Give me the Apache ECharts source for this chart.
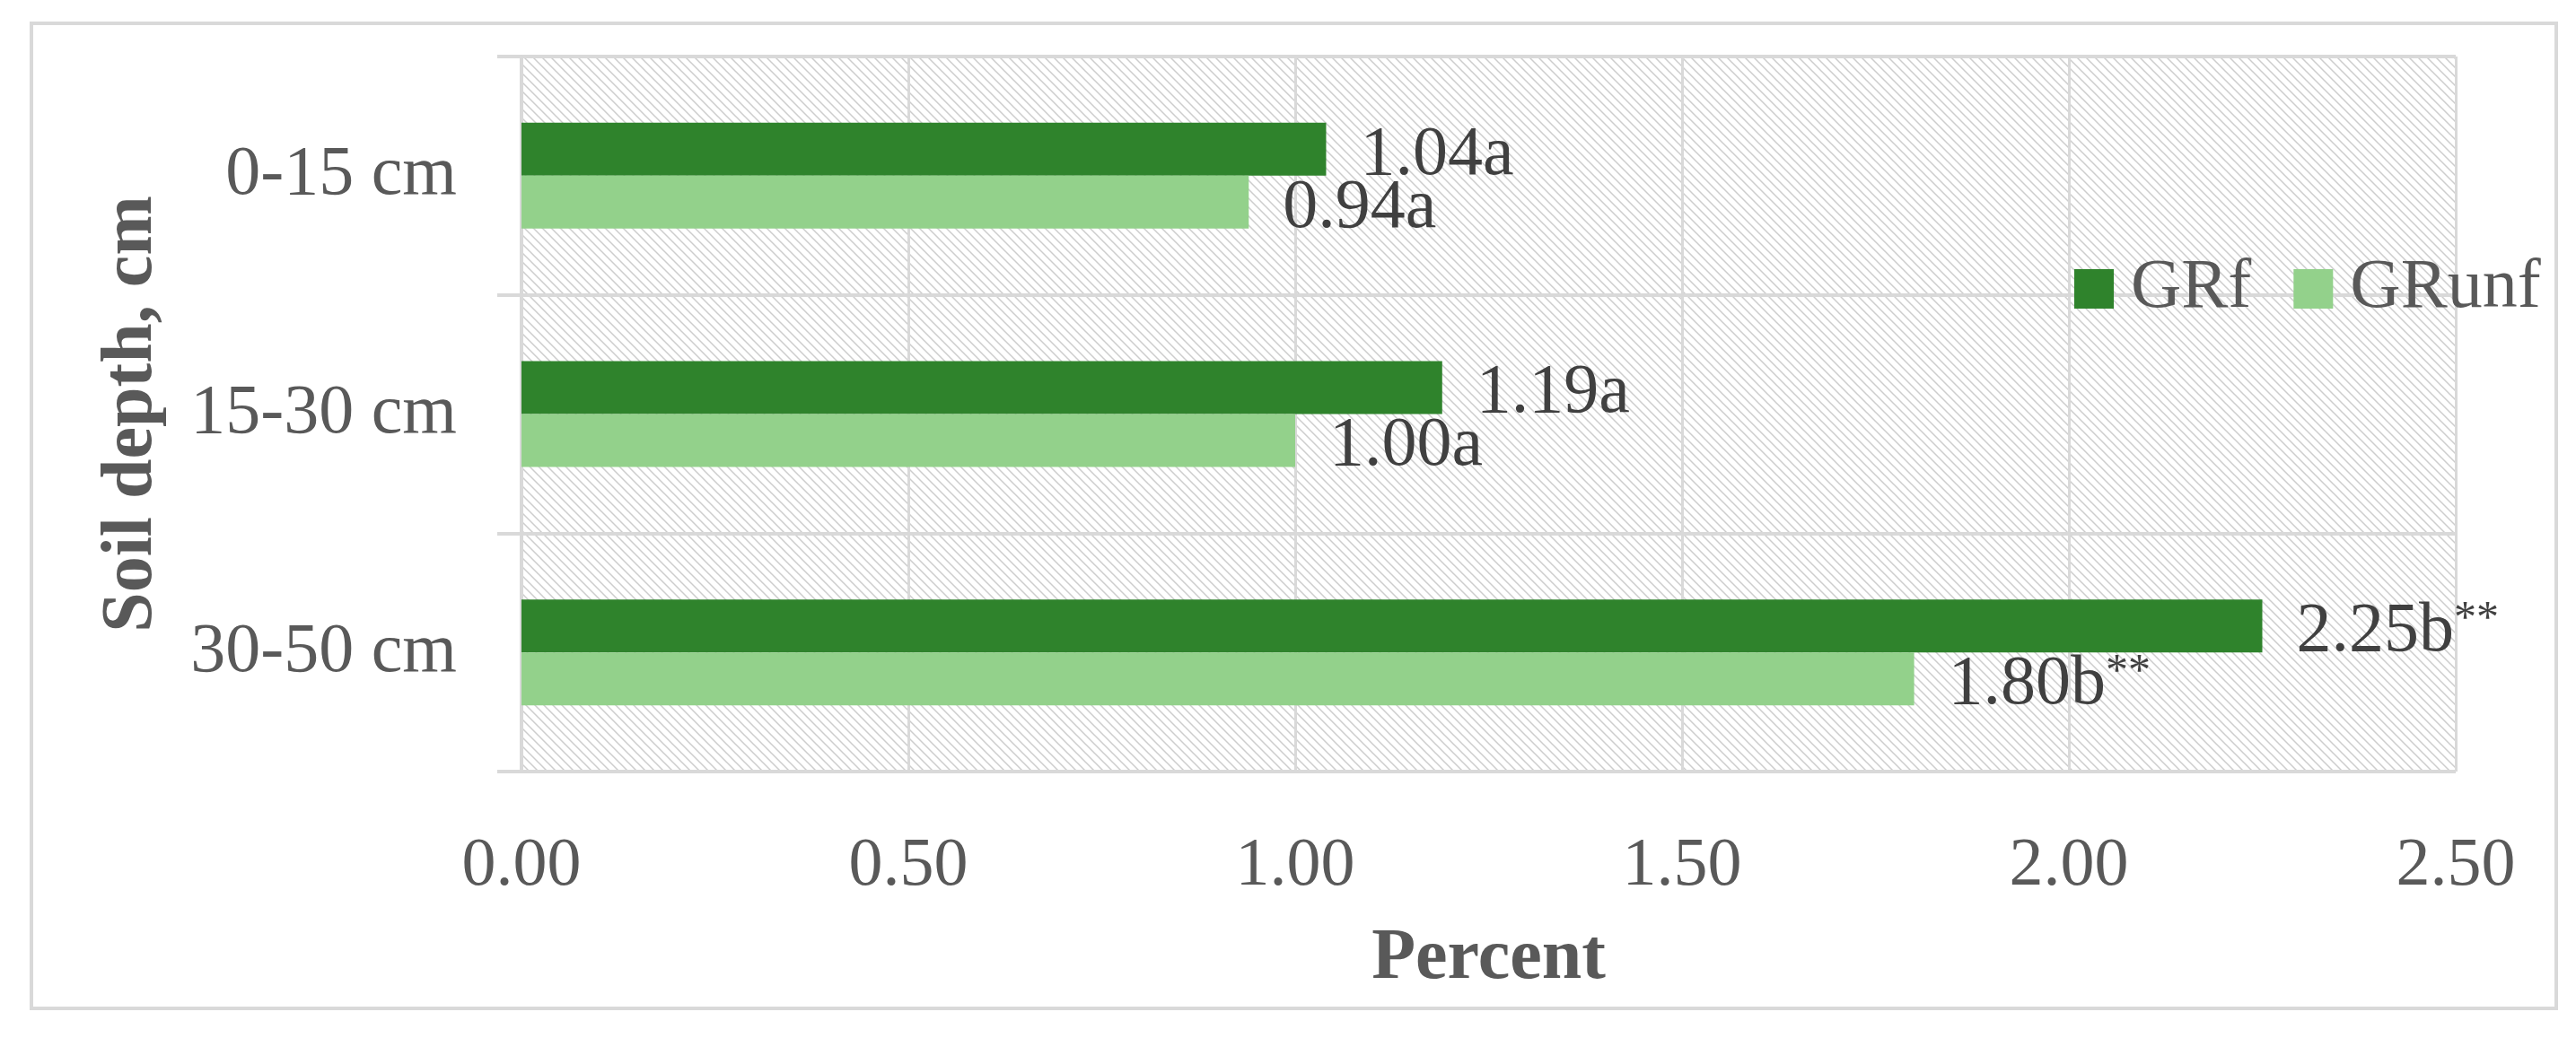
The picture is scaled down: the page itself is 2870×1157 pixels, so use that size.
<!DOCTYPE html>
<html>
<head>
<meta charset="utf-8">
<script src="https://cdn.jsdelivr.net/npm/echarts@6/dist/echarts.min.js"></script>
<style>
  html, body { margin: 0; padding: 0; background: #ffffff; }
  #chart { width: 2870px; height: 1157px; }
</style>
</head>
<body>
<div id="chart"></div>
<script>
// ---- data ----
const categories = ['0-15 cm', '15-30 cm', '30-50 cm'];
const seriesNames = ['GRf', 'GRunf'];
const grfValues = [1.04, 1.19, 2.25];
const grunfValues = [0.94, 1.00, 1.80];
const grfLetters = ['a', 'a', 'b'];
const grunfLetters = ['a', 'a', 'b'];
const grfSig = ['', '', '**'];
const grunfSig = ['', '', '**'];
const xTicks = { min: 0, max: 2.5, interval: 0.5 };
const xTitle = 'Percent';
const yTitle = 'Soil depth, cm';

// ---- styling ----
const FONT = '"Liberation Serif", "DejaVu Serif", serif';
const GRID_COLOR = '#d9d9d9';
const TEXT_COLOR = '#595959';
const LABEL_COLOR = '#404040';

// hatch pattern for plot background
function makeHatch() {
  const s = 10;
  const c = document.createElement('canvas');
  c.width = s; c.height = s;
  const ctx = c.getContext('2d');
  ctx.fillStyle = '#ffffff';
  ctx.fillRect(0, 0, s, s);
  ctx.strokeStyle = '#cdcdcd';
  ctx.lineWidth = 1.5;
  ctx.beginPath();
  for (let k = -1; k <= 1; k++) {
    ctx.moveTo(k * s - 1, -1);
    ctx.lineTo(k * s + s + 1, s + 1);
  }
  ctx.stroke();
  return c;
}

function labelFormatter(letters, sig) {
  return function (p) {
    const i = p.dataIndex;
    let s = '{v|' + Number(p.value).toFixed(2) + letters[i] + '}';
    if (sig[i]) s += '{s|' + sig[i] + '}';
    return s;
  };
}

const labelRich = {
  v: { fontFamily: FONT, fontSize: 78, color: LABEL_COLOR },
  s: { fontFamily: FONT, fontSize: 50, color: LABEL_COLOR, verticalAlign: 'top' }
};

const chart = echarts.init(document.getElementById('chart'), null, { renderer: 'canvas' });

const option = {
  backgroundColor: '#ffffff',
  animation: false,
  graphic: [{
    type: 'rect',
    z: -10,
    shape: { x: 35, y: 26, width: 2813, height: 1098 },
    style: { fill: null, stroke: GRID_COLOR, lineWidth: 4 }
  }],
  legend: {
    data: seriesNames,
    left: 2306,
    top: 278,
    icon: 'rect',
    itemWidth: 44,
    itemHeight: 44,
    itemGap: 47,
    textStyle: { fontFamily: FONT, fontSize: 78, color: TEXT_COLOR, padding: [0, 0, 0, 14] }
  },
  grid: {
    left: 581,
    right: 134,
    top: 63,
    bottom: 297,
    show: true,
    borderWidth: 0,
    backgroundColor: { image: makeHatch(), repeat: 'repeat' }
  },
  xAxis: {
    type: 'value',
    min: xTicks.min,
    max: xTicks.max,
    interval: xTicks.interval,
    name: xTitle,
    nameLocation: 'middle',
    nameGap: 169,
    nameTextStyle: { fontFamily: FONT, fontSize: 80, fontWeight: 'bold', color: TEXT_COLOR },
    axisLine: { show: false },
    axisTick: { show: false },
    axisLabel: {
      margin: 68,
      fontFamily: FONT,
      fontSize: 76,
      color: TEXT_COLOR,
      formatter: v => v.toFixed(2)
    },
    splitLine: { show: true, lineStyle: { color: GRID_COLOR, width: 3 } }
  },
  yAxis: {
    type: 'category',
    inverse: true,
    data: categories,
    name: yTitle,
    nameLocation: 'middle',
    nameRotate: 90,
    nameGap: 394,
    nameTextStyle: { fontFamily: FONT, fontSize: 80, fontWeight: 'bold', color: TEXT_COLOR },
    axisLine: { show: true, lineStyle: { color: GRID_COLOR, width: 4 } },
    axisTick: { show: true, length: 27, lineStyle: { color: GRID_COLOR, width: 4 } },
    axisLabel: { margin: 72, fontFamily: FONT, fontSize: 78, color: TEXT_COLOR },
    splitLine: { show: true, lineStyle: { color: GRID_COLOR, width: 4 } }
  },
  series: [
    {
      name: seriesNames[0],
      type: 'bar',
      data: grfValues,
      barWidth: 59,
      barGap: '0%',
      itemStyle: { color: '#2f832c' },
      label: {
        show: true,
        position: 'right',
        distance: 38,
        offset: [0, 7],
        formatter: labelFormatter(grfLetters, grfSig),
        rich: labelRich
      }
    },
    {
      name: seriesNames[1],
      type: 'bar',
      data: grunfValues,
      barWidth: 59,
      barGap: '0%',
      itemStyle: { color: '#93d18b' },
      label: {
        show: true,
        position: 'right',
        distance: 38,
        offset: [0, 7],
        formatter: labelFormatter(grunfLetters, grunfSig),
        rich: labelRich
      }
    }
  ]
};

chart.setOption(option);
</script>
</body>
</html>
